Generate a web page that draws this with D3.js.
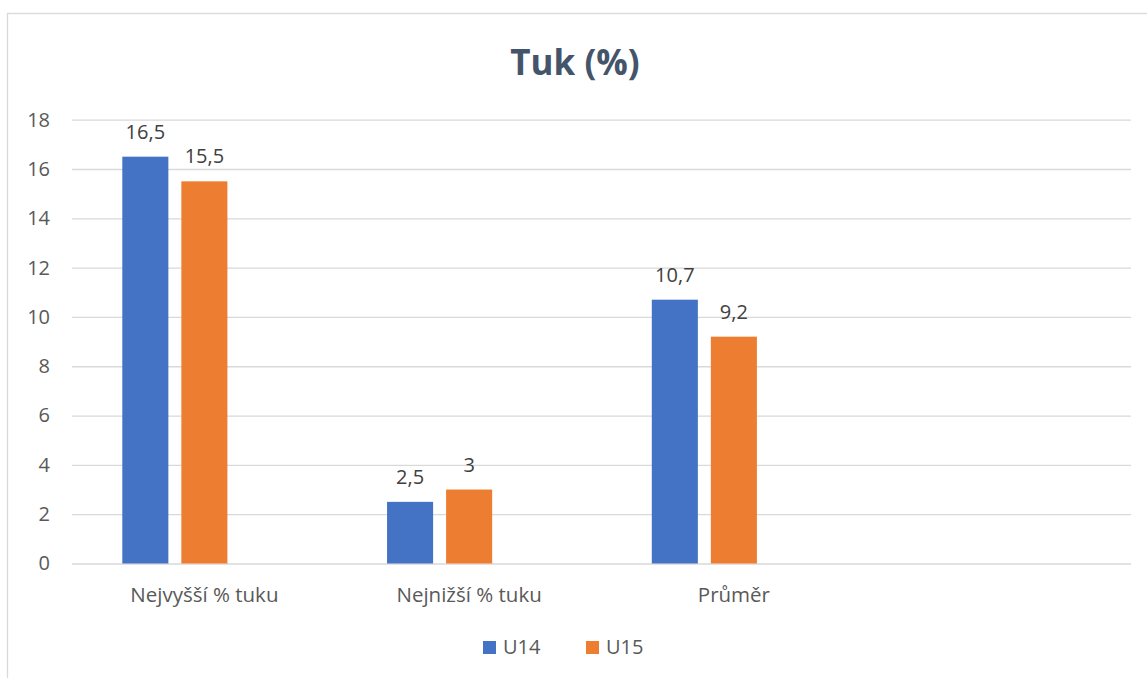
<!DOCTYPE html>
<html>
<head>
<meta charset="utf-8">
<script src="https://cdn.jsdelivr.net/npm/d3@7"></script>
<style>
  html, body { margin: 0; padding: 0; background: #fff; }
  svg { display: block; }
  text { font-family: "Open Sans", sans-serif; }
</style>
</head>
<body>
<svg id="chart" width="1147" height="678"></svg>
<script>
// ---- data ----
const title = "Tuk (%)";
const categories = ["Nejvyšší % tuku", "Nejnižší % tuku", "Průměr", ""];
const seriesNames = ["U14", "U15", ""];
const u14Values = [16.5, 2.5, 10.7, null];
const u15Values = [15.5, 3, 9.2, null];
const emptyValues = [null, null, null, null];
const yTicks = [0, 2, 4, 6, 8, 10, 12, 14, 16, 18];
const legendSeries = ["U14", "U15"];
const colors = ["#4472C4", "#ED7D31", "#A5A5A5"];

const seriesValues = [u14Values, u15Values, emptyValues];

// ---- layout ----
const W = 1147, H = 678;
const plot = { left: 72, right: 1131, top: 119.7, bottom: 563.5 };
const svg = d3.select("#chart");

// frame
svg.append("rect")
  .attr("x", 7.5).attr("y", 13.5)
  .attr("width", 1160).attr("height", 700)
  .attr("fill", "none").attr("stroke", "#d9d9d9").attr("stroke-width", 1.3);

// scales
const y = d3.scaleLinear().domain([0, 18]).range([plot.bottom, plot.top]);
const x0 = d3.scaleBand().domain(categories.map((c, i) => i))
  .range([plot.left, plot.right]).paddingInner(0.38).paddingOuter(0.19);
const x1 = d3.scaleBand().domain(seriesNames.map((s, i) => i))
  .range([0, x0.bandwidth()]).paddingInner(0.22).paddingOuter(0);

// gridlines via axis
const yAxis = d3.axisLeft(y).tickValues(yTicks).tickSize(-(plot.right - plot.left)).tickPadding(22)
  .tickFormat(d => String(d));
const gy = svg.append("g").attr("transform", `translate(${plot.left},0)`).call(yAxis);
gy.select(".domain").remove();
gy.selectAll(".tick line").attr("stroke", "#d9d9d9").attr("stroke-width", 1.3);
gy.selectAll(".tick text").attr("fill", "#595959").attr("font-size", 20)
  .attr("font-family", "'Open Sans', sans-serif");

// bars
const groups = svg.append("g").selectAll("g")
  .data(categories.map((c, i) => i))
  .join("g")
  .attr("transform", i => `translate(${x0(i)},0)`);

seriesValues.forEach((vals, s) => {
  groups.filter(i => vals[i] != null)
    .append("rect")
    .attr("x", x1(s))
    .attr("width", x1.bandwidth())
    .attr("y", i => y(vals[i]))
    .attr("height", i => y(0) - y(vals[i]))
    .attr("fill", colors[s]);
  groups.filter(i => vals[i] != null)
    .append("text")
    .attr("x", x1(s) + x1.bandwidth() / 2)
    .attr("y", i => y(vals[i]) - 18)
    .attr("text-anchor", "middle")
    .attr("font-size", 20)
    .attr("fill", "#404040")
    .text(i => String(vals[i]).replace(".", ","));
});

// category axis labels
const xAxis = d3.axisBottom(x0).tickSize(0).tickPadding(24).tickFormat(i => categories[i]);
const gx = svg.append("g").attr("transform", `translate(0,${plot.bottom})`).call(xAxis);
gx.select(".domain").remove();
gx.selectAll(".tick text").attr("fill", "#595959").attr("font-size", 20.5)
  .attr("font-family", "'Open Sans', sans-serif");

// title
svg.append("text")
  .attr("x", 575).attr("y", 75)
  .attr("text-anchor", "middle")
  .attr("font-size", 35).attr("font-weight", "bold")
  .attr("fill", "#44546A")
  .text(title);

// legend
const legendX = d3.scalePoint().domain(legendSeries).range([483, 586]);
const lg = svg.append("g").selectAll("g").data(legendSeries).join("g")
  .attr("transform", d => `translate(${legendX(d)},641)`);
lg.append("rect").attr("width", 13).attr("height", 13)
  .attr("fill", (d, i) => colors[i]);
lg.append("text").attr("x", 20).attr("y", 13)
  .attr("font-size", 20).attr("fill", "#595959").text(d => d);
</script>
</body>
</html>
